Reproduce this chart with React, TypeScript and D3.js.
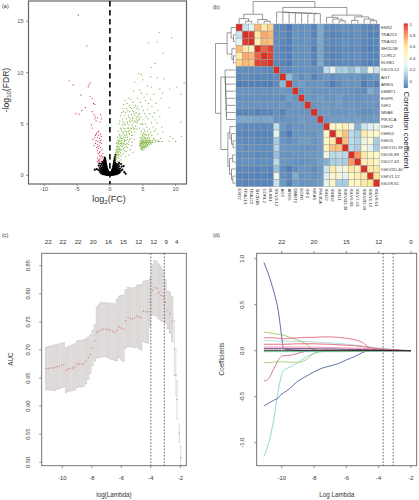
import React from "react";
import * as d3 from "d3";

// ---------- panel (a) volcano: [log2FC, -log10FDR] ----------
const redPts: [number, number][] = [
[-4.8,15.6],[-3.5,12.6],[-6.2,9.2],[-5.6,8.8],[-3.2,8.8],[-3,9],[-3.3,8.6],[-4.4,7.8],[-3,7.7],[-2.7,7.5],[-2.5,7],[-2.3,6.9],[-3.7,6.6],[-4.3,6.3],[-5.2,6],[-4.7,5.95],[-2.7,6.2],[-2.4,5.9],[-2.3,5.5],[-2.2,5.7],[-1.9,5.6],[-1.4,5.9],[-1.3,5.5],[-1.5,5.2],[-2.1,5.3],[-2.8,4.9],[-2.7,4.6],[-2,4.1],[-1.8,4.2],[-1.7,4.3],[-2.1,4],[-1.4,4],[-2.3,3.7],[-1.9,3.7],[-1.6,3.6],[-1.3,3.8],[-2.6,3.5],[-2.1,3.4],[-1.8,3.3],[-1.4,3.4],[-2.2,3.1],[-1.9,3],[-1.6,2.9],[-1.3,3.1],[-2,2.7],[-1.7,2.6],[-1.4,2.7],[-1.9,2.4],[-1.5,2.3],[-1.2,2.5],[-1.8,2.1],[-1.1,2.1],[-1.6,1.9],[-1.3,1.9],[-1.1,1.8],[-1.9,1.7],[-1.5,1.6],[-1.2,1.6],[-1.7,1.4],[-1.3,1.35],[-1.05,1.4],[-1.5,1.3],[-1.8,1.5],[-2.2,3.9],[-1.7,3.9],[-1.5,3.2],[-2.4,2.9],[-1.8,2.8],[-1.6,2.2],[-1.4,1.8],[-1.6,1.5],[-1.9,1.3],
];
const greenPts: [number, number][] = [
[7.5,13.9],[9.4,13.4],[7.2,13],[5.9,12.9],[8.1,11.9],[6.9,10.9],[6.3,10.5],[4.4,9.9],[4.8,9.8],[5,9.3],[6.2,9.6],[7.2,9.5],[8.2,9.4],[3.8,9.1],[11.3,9],[10.2,8.6],[9.1,8.4],[7.6,8.4],[5.7,8.7],[6.3,8.6],[4.5,8.3],[4.8,8],[3.6,8.2],[5.6,7.9],[6.7,7.9],[8,8],[10.8,7.9],[5.2,7.6],[2.8,7.5],[3.2,7.4],[4.2,7.5],[7.8,7.5],[5.4,7.3],[6.2,7.4],[2.3,7.3],[2.6,7],[3.5,7.1],[4.6,7.1],[5.9,7],[7,7],[2.1,6.9],[3,6.8],[3.9,6.8],[4.9,6.7],[6.4,6.7],[9,6.6],[2,6.5],[2.5,6.5],[3.3,6.5],[4.1,6.5],[4.4,6.4],[5.1,6.3],[5.7,6.4],[7.3,6.3],[1.8,6.1],[2.4,6.1],[3,6.2],[3.6,6.2],[4,6.1],[4.5,6],[5.3,6],[6.1,6],[6.8,6.1],[1.6,5.8],[2.2,5.8],[2.8,5.8],[3.3,5.9],[3.8,5.8],[4.3,5.7],[4.7,5.7],[5.5,5.7],[6.5,5.7],[7.6,5.7],[1.9,5.5],[2.5,5.5],[3.1,5.5],[3.5,5.5],[4,5.5],[4.4,5.4],[5,5.4],[5.8,5.5],[6.9,5.4],[1.5,5.3],[2,5.2],[2.6,5.2],[3.2,5.2],[3.7,5.2],[4.2,5.1],[4.7,5],[5,5],[5.4,5],[6.3,5.1],[7.2,5.1],[10.8,5.2],[1.4,5],[1.9,4.9],[2.4,4.9],[2.9,4.9],[3.4,4.9],[3.9,4.8],[4.9,4.95],[5.6,4.7],[6.6,4.7],[7.9,4.7],[1.6,4.6],[2.1,4.6],[2.7,4.6],[3.1,4.6],[3.6,4.5],[4.1,4.5],[4.5,4.6],[5.2,4.5],[6,4.5],[7,4.5],[1.3,4.3],[1.8,4.3],[2.3,4.3],[2.8,4.3],[3.3,4.2],[3.8,4.2],[4.8,4.3],[5.3,4.3],[5.7,4.3],[6.2,4.2],[6.8,4.3],[8.1,4.2],[1.5,4],[2,4],[2.5,4],[3,4],[3.5,3.9],[4.9,4],[5.1,4.1],[5.5,4],[5.9,4],[6.4,3.9],[7.3,4],[9.2,3.8],[10.9,3.8],[1.2,3.7],[1.6,3.7],[2.1,3.7],[2.7,3.7],[3.2,3.6],[3.7,3.5],[4.6,3.7],[4.9,3.7],[5.3,3.7],[5.7,3.7],[6.1,3.7],[6.6,3.6],[7.7,3.6],[9.6,3.6],[1.1,3.4],[1.4,3.4],[1.8,3.4],[2.3,3.4],[2.9,3.3],[3.4,3.2],[4.7,3.4],[5,3.4],[5.2,3.45],[5.5,3.4],[5.8,3.4],[6.1,3.4],[6.5,3.4],[7,3.4],[7.4,3.35],[8,3.3],[9,3.3],[10,3.3],[1,3.1],[1.3,3.1],[1.6,3.1],[2,3.1],[2.4,3],[2.8,3],[3.3,2.9],[4.6,3.1],[4.8,3.1],[5,3.15],[5.3,3.15],[5.6,3.1],[5.9,3.1],[6.2,3.15],[6.5,3.2],[6.9,3.25],[7.3,3.3],[7.6,3.3],[1,2.8],[1.2,2.8],[1.5,2.8],[1.9,2.8],[2.3,2.7],[2.7,2.7],[3.1,2.5],[4.5,2.9],[4.7,2.85],[4.9,2.9],[5.1,2.95],[5.4,2.9],[5.7,2.9],[6,3],[6.3,3.05],[0.9,2.5],[1.1,2.5],[1.4,2.5],[1.8,2.5],[2.2,2.4],[2.5,2.3],[3.5,2.2],[4.7,2.6],[4.9,2.65],[5.1,2.7],[5.3,2.7],[5.5,2.75],[5.8,2.8],[0.9,2.2],[1.1,2.2],[1.3,2.2],[1.6,2.2],[2,2.1],[2.9,2],[4.8,2.5],[5,2.5],[5.2,2.55],[0.8,1.9],[1,1.9],[1.3,1.9],[1.7,1.9],[2.4,1.8],[0.8,1.6],[1,1.6],[1.3,1.6],[1.7,1.5],[0.8,1.35],[1.1,1.35],[1.4,1.35],[5,3.8],[5.5,3.55],[6,3.55],[4.8,3.25],[5.4,3.25],[5.7,3.25],[6,3.25],[6.3,3.25],[4.9,2.8],[5.2,2.85],[5.6,2.95],[4.6,3.25],[4.7,3],[5.1,3.3],[5.9,3.85],[5.2,3.85],[4.8,3.55],[6.8,3.5],[1.5,2.6],[1.7,2.9],[1.4,3],[1.2,2.35],[1.5,2],[1.1,2.65],[1.8,3.2],[2.2,3.3],[2.6,3.1],[3,3.5],[3.3,3.9],[2.9,4.1],[3.5,4.7],[4,5.2],[4.4,5.9],[3.7,6],[4.2,6.7],
[4.7,2.75],[4.85,2.7],[5,2.75],[5.2,2.8],[5.4,2.8],[4.6,2.95],[4.75,3.05],[4.95,3.05],[5.15,3.05],[5.35,3.05],[5.5,3],[5.75,3],[5.95,3.2],[4.85,3.2],[5.05,3.2],[5.25,3.2],[5.45,3.2],[5.6,3.2],[5.8,3.2],[6.15,3.35],[4.9,3.35],[5.35,3.35],[5.6,3.35],[5.95,3.4],[5,3.55],[5.2,3.6],[5.4,3.6],[5.7,3.55],[4.95,3.9],[5.3,4],[5.6,3.9],[0.9,1.75],[1.1,1.75],[1.2,2],[1.05,2.05],[1.35,2.05],[1,2.35],[1.25,2.55],[1.3,2.7],[1.45,2.35],[1.6,2.45],[1.15,2.95],[1.35,3.25],[1.55,3.3],[1.75,3.05],[1.2,3.2],[1.5,3.55],[1.75,3.6],[1.95,3.55],[2.2,3.5],[1.4,3.85],[1.7,3.85],[2.25,3.9],[2.6,3.85],[2.05,4.2],[2.55,4.25],[3.05,4.35],[1.7,4.5],[2.3,4.55],[2.85,4.6],[3.3,4.55],[3.8,4.55],[2.2,5],[2.7,5.1],[3,5.3],[3.4,5.35],[3.8,5.3],[4.2,5.35],[2.9,5.65],[3.4,5.65],[4.1,5.7],[4.5,5.5],[2.1,6.2],[2.7,6.3],[3.4,6.3],[3.1,6.6],[3.7,6.6],[2.2,3.05],[2.5,2.85],[2.05,2.6],[2,2.95],[2.6,3.5],[2.4,3.7],
];
const blackPts: [number, number][] = [
[-.05,.02],[0,.03],[.05,.02],[-.1,.04],[.1,.03],[-.15,.06],[.15,.05],[-.2,.03],[.2,.04],[-.25,.08],[.25,.07],[-.3,.05],[.3,.06],[-.35,.1],[.35,.1],[-.4,.05],[.4,.05],[-.45,.12],[.45,.12],[-.5,.07],[.5,.08],[-.55,.14],[.55,.14],[-.6,.07],[.6,.08],[-.65,.15],[.65,.16],[-.7,.08],[.7,.09],[-.8,.12],[.8,.12],[-.9,.1],[.9,.1],[-1,.14],[1,.14],[-1.1,.1],[1.1,.12],
[-.05,.14],[.05,.14],[-.12,.18],[.12,.18],[-.18,.16],[.18,.16],[-.24,.22],[.24,.22],[-.3,.18],[.3,.18],[-.36,.24],[.36,.24],[-.42,.2],[.42,.2],[-.5,.25],[.5,.25],[-.58,.22],[.58,.22],[-.66,.28],[.66,.28],[-.74,.22],[.74,.24],[-.84,.27],[.84,.27],[-.95,.25],[.95,.26],[-1.05,.3],[1.05,.3],[-1.2,.25],[1.2,.25],[-1.35,.2],[1.35,.2],
[-.1,.28],[.1,.28],[-.2,.32],[.2,.32],[-.28,.34],[.28,.34],[-.36,.38],[.36,.38],[-.44,.34],[.44,.34],[-.52,.4],[.52,.4],[-.6,.36],[.6,.36],[-.68,.42],[.68,.42],[-.76,.38],[.76,.38],[-.86,.42],[.86,.42],[-.96,.4],[.96,.4],[-1.1,.42],[1.1,.42],[-1.3,.4],[1.3,.4],[-1.5,.35],[1.5,.3],
[-.32,.48],[.32,.48],[-.4,.52],[.4,.52],[-.48,.5],[.48,.5],[-.56,.56],[.56,.56],[-.64,.52],[.64,.52],[-.72,.58],[.72,.58],[-.8,.54],[.8,.54],[-.9,.58],[.9,.58],[-1,.55],[1,.55],[-1.15,.58],[1.15,.56],[-1.4,.55],[1.4,.5],[-1.7,.5],[1.7,.45],
[-.42,.66],[.42,.66],[-.5,.7],[.5,.7],[-.58,.68],[.58,.68],[-.66,.74],[.66,.74],[-.74,.7],[.74,.7],[-.82,.76],[.82,.76],[-.92,.72],[.92,.72],[-1.05,.76],[1.05,.74],[-1.25,.72],[1.25,.7],[-1.55,.7],[1.55,.66],[-2,.6],[1.9,.55],
[-.5,.86],[.5,.86],[-.58,.9],[.58,.9],[-.66,.88],[.66,.88],[-.74,.94],[.74,.94],[-.84,.9],[.84,.9],[-.95,.94],[.95,.92],[-1.1,.95],[1.1,.92],[-1.4,.9],[1.4,.88],[-1.7,.95],[1.8,.85],[2.2,.3],[-2.3,.55],
[-.56,1.06],[.56,1.06],[-.64,1.1],[.64,1.1],[-.72,1.08],[.72,1.08],[-.8,1.14],[.8,1.14],[-.9,1.1],[.9,1.1],[-1.05,1.15],[1.05,1.1],[-1.3,1.1],[1.3,1.05],[-1.6,1.15],[1.7,1.1],[2.1,.9],[2.4,.15],
[-.62,1.26],[.62,1.26],[-.7,1.3],[.7,1.3],[-.8,1.28],[.8,1.25],[-.95,1.3],[-1.15,1.3],[1.4,1.2],[-.66,1.42],[.66,1.42],[-.76,1.5],[.74,1.5],[-.9,1.46],[-.72,1.62],[.72,1.65],[-.8,1.72],[.8,1.8],[.85,2],
];
const volcanoXTicks = [-10, -5, 0, 5, 10];
const volcanoYTicks = [0, 5, 10, 15];

// ---------- panel (b) heatmap ----------
const genes = ["ESR2","TRAJ13","TRAJ22","SH2D1B","CORL2","KLKB1","IGLV3.12","AGT","AREG","DMBT1","EGFR","IGF2","NRAS","PIK3CA","IGHJ2","IGHD2","IGHJ1","IGKV1D.39","IGLV6.89","IGLV7.43","IGKV2D.40","IGKV1.12","IGLV8.61"];
const corrLower: number[][] = [
[100],
[20,100],
[28,97,100],
[72,56,50,100],
[54,76,72,90,100],
[66,72,70,96,96,100],
[-5,-5,-5,-5,-5,-6,100],
[-6,-5,-6,-7,-6,-7,-5,100],
[-9,-8,-8,-8,-8,-9,-6,6,100],
[-3,-3,-3,-4,-3,-4,-3,-2,-3,100],
[-4,-4,-4,-4,-4,-4,-4,-5,-1,-3,100],
[-3,-3,-3,-3,-3,-3,-3,-2,-4,-2,-2,100],
[-7,-7,-6,-8,-7,-7,-4,-7,-3,-3,-3,-3,100],
[2,2,2,1,1,2,-3,-4,-3,-3,-1,-2,-2,100],
[-5,-6,-5,-6,-6,-6,18,-2,-5,-3,-3,-2,-2,-2,100],
[-6,-7,-6,-7,-7,-7,28,-5,-9,-3,-3,-3,-3,-1,46,100],
[-5,-6,-5,-6,-6,-6,12,-3,-5,-3,-1,-1,-3,-1,44,56,100],
[-4,-5,-4,-5,-5,-5,14,-2,-3,-3,-3,-3,-3,-1,50,70,70,100],
[-5,-5,-5,-6,-5,-6,8,-3,-4,-3,-3,-2,-2,-1,34,17,18,17,100],
[-4,-4,-4,-5,-4,-5,17,-2,-3,-4,-4,-3,-3,0,4,13,14,13,80,100],
[-6,-6,-6,-7,-6,-7,8,-5,-9,-5,-3,-3,-5,-2,21,54,34,40,55,50,100],
[-7,-7,-7,-8,-7,-8,32,-4,-6,3,-3,-2,-4,-2,25,40,40,28,46,50,55,100],
[-6,-7,-6,-7,-7,-7,20,-2,-8,-1,-3,-3,-3,-1,30,44,13,13,44,44,56,60,100],
];
const legendTicks = [1, 0.8, 0.6, 0.4, 0.2, 0];
const heatDomain = [-0.11, 1];
const heatColors = ["#4575B4","#91BFDB","#E0F3F8","#FFF8C6","#FEE090","#FC8D59","#D73027"];
// dendrogram: [height fraction, child, child]; a leaf is a gene index
const dendro: any = [1,
  [.42,[.22,0,[.1,1,2]],[.18,3,[.1,4,5]]],
  [.73,
    [.52,6,[.5,7,[.49,8,[.48,9,[.47,10,[.46,11,[.45,12,13]]]]]]],
    [.38,
      [.28,14,[.2,15,[.12,16,17]]],
      [.3,[.14,18,19],[.2,20,[.13,21,22]]]]]];

// ---------- panel (c) AUC curve ----------
const aucLog = [-11.1,-10.95,-10.8,-10.65,-10.5,-10.35,-10.2,-10.05,-9.9,-9.75,-9.6,-9.45,-9.3,-9.15,-9,-8.85,-8.7,-8.55,-8.4,-8.25,-8.1,-7.95,-7.8,-7.65,-7.5,-7.35,-7.2,-7.05,-6.9,-6.75,-6.6,-6.45,-6.3,-6.15,-6,-5.85,-5.7,-5.55,-5.4,-5.25,-5.1,-4.95,-4.8,-4.65,-4.5,-4.35,-4.2,-4.05,-3.9,-3.75,-3.6,-3.45,-3.3,-3.15,-3,-2.85,-2.7,-2.55,-2.4,-2.3,-2.22,-2.07,-1.97];
const aucMean = [.667,.667,.668,.668,.669,.67,.671,.673,.674,.664,.666,.667,.668,.67,.675,.675,.675,.676,.68,.686,.692,.703,.716,.732,.734,.736,.737,.737,.736,.735,.733,.731,.735,.741,.739,.737,.752,.758,.757,.755,.757,.76,.759,.757,.769,.768,.768,.785,.806,.811,.81,.802,.797,.795,.785,.771,.765,.75,.702,.655,.612,.552,.508];
const aucUpper = [.705,.706,.707,.708,.709,.71,.711,.712,.713,.704,.706,.708,.709,.711,.716,.717,.717,.718,.72,.723,.727,.735,.745,.777,.782,.785,.784,.784,.783,.783,.783,.782,.79,.796,.797,.798,.807,.811,.811,.81,.811,.815,.816,.816,.822,.823,.824,.828,.852,.859,.858,.853,.848,.843,.825,.805,.803,.795,.752,.7,.645,.568,.529];
const aucLower = [.629,.629,.629,.628,.628,.63,.631,.633,.634,.624,.626,.627,.628,.629,.633,.634,.634,.635,.64,.648,.658,.672,.68,.686,.686,.687,.688,.688,.686,.684,.683,.681,.681,.686,.682,.68,.703,.706,.706,.705,.704,.705,.702,.7,.715,.713,.712,.742,.762,.762,.76,.755,.752,.75,.748,.738,.73,.715,.655,.62,.577,.535,.495];
const aucTopX = [-10.95,-9.95,-8.93,-7.9,-6.87,-5.85,-4.82,-3.8,-2.95,-2.25];
const aucTopLabels = ["22","22","22","20","16","15","12","12","9","4"];
const aucYTicks = [.5,.55,.6,.65,.7,.75,.8,.85];
const aucXTicks = [-10,-8,-6,-4,-2];
const aucVLines = [-4, -3.08];

// ---------- panel (d) coefficient paths ----------
const lamX = [-11.1,-10.8,-10.5,-10.2,-10,-9.9,-9.5,-9,-8.5,-8,-7.5,-7,-6.5,-6,-5.5,-5,-4.5,-4,-3.5,-3,-2.5,-2];
const pathRed2 = [.07,.07,.07,.07,.07,.07,.072,.075,.075,.075,.072,.07,.065,.06,.055,.045,.03,.02,.014,.008,.003,0];
const pathLightBlue = [.11,.11,.108,.105,.105,.105,.105,.1,.1,.095,.09,.085,.08,.07,.06,.05,.04,.03,.02,.012,.005,0];
const pathRed = [.14,.14,.14,.135,.13,.13,.135,.14,.145,.145,.15,.15,.145,.135,.12,.09,.03,.02,.015,.01,.004,0];
const pathPink2 = [.04,.04,.04,.04,.04,.04,.04,.04,.04,.038,.036,.034,.032,.03,.028,.025,.02,.015,.01,.006,.002,0];
const pathPurple = [.025,.025,.025,.025,.025,.025,.025,.025,.024,.022,.02,.02,.018,.016,.014,.012,.01,.008,.006,.004,.002,0];
const pathDark = [.005,.005,.005,.005,.005,.005,.005,.005,.005,.005,.005,.005,.005,.005,.005,.004,.004,.003,.002,.001,.001,0];
const pathGreen2 = [-.01,-.01,-.01,-.01,-.01,-.01,-.01,-.01,-.01,-.01,-.01,-.01,-.01,-.01,-.008,-.006,-.004,-.003,-.002,-.001,0,0];
const pathNavy = [.96,.82,.65,.42,.15,.03,.01,.005,0,0,0,0,0,0,0,0,0,0,0,0,0,0];
const pathCyan = [-1.15,-1,-.76,-.42,-.26,-.22,-.18,-.13,-.07,-.03,-.01,-.005,0,0,0,0,0,0,0,0,0,0];
const pathBlue = [-.6,-.57,-.54,-.51,-.47,-.46,-.41,-.33,-.28,-.23,-.19,-.165,-.14,-.1,-.065,-.02,0,0,0,0,0,0];
const pathOlive = [.2,.195,.185,.18,.175,.17,.145,.115,.075,.01,0,0,0,0,0,0,0,0,0,0,0,0];
const pathLime = [-.13,-.13,-.125,-.12,-.12,-.12,-.125,-.125,-.1,-.03,0,0,0,0,0,0,0,0,0,0,0,0];
const pathMauve = [-.33,-.3,-.2,-.1,-.06,-.055,-.05,-.03,-.005,0,0,0,0,0,0,0,0,0,0,0,0,0];
const coefSeries: [number[], string, number][] = [
  [pathLightBlue,"#a4dde2",.9],[pathCyan,"#86d2d6",.9],[pathNavy,"#505a9e",.9],[pathBlue,"#48639f",.9],
  [pathOlive,"#9ac86a",.9],[pathLime,"#a3cc72",.9],[pathMauve,"#c56c9a",.9],[pathRed,"#e46a7e",.9],
  [pathRed2,"#e8606f",.9],[pathPink2,"#ea90aa",.9],[pathPurple,"#7a4080",.9],[pathGreen2,"#66c08a",1],[pathDark,"#2a1a26",1],
];
const coefTopX = [-10,-8,-6,-4,-2];
const coefTopLabels = ["22","20","15","12","0"];
const coefYTicks = [-1,-.5,0,.5,1];
const coefXTicks = [-10,-8,-6,-4,-2];
const coefVLines = [-3.72,-3.1];

const FONT = "'Liberation Sans', Arial, sans-serif";
const GREY = "#555";
const AXIS = "#666";

function Volcano() {
  const x = d3.scaleLinear().domain([-10, 10]).range([44.2, 175.6]);
  const y = d3.scaleLinear().domain([0, 15]).range([175.3, 21.3]);
  const L = 28.5, R = 186.5, T = 1, B = 184;
  return (
    <g fontFamily={FONT}>
      <rect x={L} y={T} width={R - L} height={B - T} fill="#fff" stroke={AXIS} strokeWidth={1.2} />
      {blackPts.map((p, i) => <circle key={i} cx={x(p[0])} cy={y(p[1])} r={1.1} fill="#000" />)}
      {redPts.map((p, i) => <circle key={i} cx={x(p[0])} cy={y(p[1])} r={0.62} fill="#c8344c" />)}
      {greenPts.map((p, i) => <circle key={i} cx={x(p[0])} cy={y(p[1])} r={0.62} fill="#7cb23a" />)}
      <line x1={x(0)} x2={x(0)} y1={T} y2={B} stroke="#000" strokeWidth={1.6} strokeDasharray="5.5 3.5" />
      {volcanoXTicks.map(t => (
        <g key={t}>
          <line x1={x(t)} x2={x(t)} y1={B} y2={B + 2} stroke={AXIS} strokeWidth={0.7} />
          <text x={x(t)} y={191} fontSize={5.6} textAnchor="middle" fill={GREY}>{t}</text>
        </g>
      ))}
      {volcanoYTicks.map(t => (
        <g key={t}>
          <line x1={L - 2.5} x2={L} y1={y(t)} y2={y(t)} stroke={AXIS} strokeWidth={0.7} />
          <text x={23.5} y={y(t) + 2} fontSize={5.6} textAnchor="end" fill={GREY}>{t}</text>
        </g>
      ))}
      <text x={109} y={202} fontSize={9} textAnchor="middle" fill="#333">log<tspan fontSize={6.2} dy={2}>2</tspan><tspan dy={-2}>(FC)</tspan></text>
      <text transform="translate(9,90) rotate(-90)" fontSize={8.6} textAnchor="middle" fill="#333">-log<tspan fontSize={6} dy={2}>10</tspan><tspan dy={-2}>(FDR)</tspan></text>
    </g>
  );
}

function Dendro({ orient }: { orient: "top" | "left" }) {
  const n = genes.length;
  const pos = d3.scaleBand<number>().domain(d3.range(n)).range(orient === "top" ? [236, 379.7] : [24, 186.7]);
  const hs = orient === "top" ? d3.scaleLinear().domain([0, 1]).range([23.5, 1.5]) : d3.scaleLinear().domain([0, 1]).range([235.5, 215.5]);
  const segs: string[] = [];
  const walk = (node: any): [number, number] => {
    if (typeof node === "number") return [pos(node)! + pos.bandwidth() / 2, 0];
    const [h, a, b] = node;
    const [pa, ha] = walk(a);
    const [pb, hb] = walk(b);
    if (orient === "top") segs.push(`M${pa},${hs(ha)}V${hs(h)}H${pb}V${hs(hb)}`);
    else segs.push(`M${hs(ha)},${pa}H${hs(h)}V${pb}H${hs(hb)}`);
    return [(pa + pb) / 2, h];
  };
  walk(dendro);
  return <path d={segs.join("")} fill="none" stroke="#555" strokeWidth={0.6} />;
}

function Heatmap() {
  const n = genes.length;
  const x = d3.scaleBand<number>().domain(d3.range(n)).range([236, 379.7]);
  const y = d3.scaleBand<number>().domain(d3.range(n)).range([24, 186.7]);
  const stops = heatColors.map((_, i) => heatDomain[0] + (i / (heatColors.length - 1)) * (heatDomain[1] - heatDomain[0]));
  const color = d3.scaleLinear<string>().domain(stops).range(heatColors).interpolate(d3.interpolateRgb);
  const value = (i: number, j: number) => (i >= j ? corrLower[i][j] : corrLower[j][i]) / 100;
  const legY = d3.scaleLinear().domain([1, 0]).range([24, 81.3]);
  const legendVals = d3.range(heatDomain[0], 1.0001, 0.01);
  return (
    <g fontFamily={FONT}>
      <Dendro orient="top" />
      <Dendro orient="left" />
      {d3.range(n).map(i => d3.range(n).map(j => (
        <rect key={i + "-" + j} x={x(j)} y={y(i)} width={x.bandwidth()} height={y.bandwidth()} fill={color(value(i, j))} stroke="#9a9a9a" strokeWidth={0.45} />
      )))}
      {genes.map((g, i) => (
        <g key={g}>
          <text x={381} y={y(i)! + y.bandwidth() / 2 + 1.5} fontSize={4.3} fill="#333">{g}</text>
          <text transform={`translate(${x(i)! + x.bandwidth() / 2 - 1.5},188.5) rotate(90)`} fontSize={4.3} fill="#333">{g}</text>
        </g>
      ))}
      {legendVals.map(v => (
        <rect key={v} x={403.8} y={legY(v + 0.01)} width={4} height={legY(v) - legY(v + 0.01) + 0.3} fill={color(v)} />
      ))}
      {legendTicks.map(t => (
        <text key={t} x={409.5} y={legY(t) + 1.5} fontSize={4.3} fill="#333">{t}</text>
      ))}
      <text transform="translate(404,130) rotate(90)" fontSize={8} textAnchor="middle" fill="#222">Correlation coefficient</text>
    </g>
  );
}

function RFrame({ L, R, T, B, x, y, xTicks, yTicks, fmtY, xTitle, yTitle, top, topLabels, vlines, yLabelX, yTitleX }: any) {
  return (
    <g fontFamily={FONT}>
      <rect x={L} y={T} width={R - L} height={B - T} fill="none" stroke={AXIS} strokeWidth={0.9} />
      {xTicks.map((t: number) => (
        <g key={t}>
          <line x1={x(t)} x2={x(t)} y1={B} y2={B + 2.5} stroke={AXIS} strokeWidth={0.7} />
          <text x={x(t)} y={480} fontSize={5.8} textAnchor="middle" fill="#333">{t}</text>
        </g>
      ))}
      {yTicks.map((t: number) => (
        <g key={t}>
          <line x1={L - 2.5} x2={L} y1={y(t)} y2={y(t)} stroke={AXIS} strokeWidth={0.7} />
          <text transform={`translate(${yLabelX},${y(t)}) rotate(-90)`} fontSize={5.8} textAnchor="middle" fill="#333">{fmtY(t)}</text>
        </g>
      ))}
      {top.map((t: number, i: number) => (
        <text key={i} x={x(t)} y={243.5} fontSize={6.2} textAnchor="middle" fill="#333">{topLabels[i]}</text>
      ))}
      {vlines.map((v: number) => (
        <line key={v} x1={x(v)} x2={x(v)} y1={T} y2={B} stroke="#444" strokeWidth={0.8} strokeDasharray="1.6 1.6" />
      ))}
      <text x={(L + R) / 2} y={497} fontSize={6.3} textAnchor="middle" fill="#333">{xTitle}</text>
      <text transform={`translate(${yTitleX},359) rotate(-90)`} fontSize={6.3} textAnchor="middle" fill="#333">{yTitle}</text>
    </g>
  );
}

function AucPanel() {
  const x = d3.scaleLinear().domain([-10, -2]).range([62.3, 180.3]);
  const y = d3.scaleLinear().domain([0.5, 0.85]).range([462.3, 265.7]);
  const meanLine = aucLog.map((l, i) => ({ l, m: aucMean[i], u: aucUpper[i], d: aucLower[i] }));
  return (
    <g>
      {meanLine.map((p, i) => (
        <line key={"b" + i} x1={x(p.l)} x2={x(p.l)} y1={y(p.u)} y2={y(p.d)} stroke="#dcd9d8" strokeWidth={i > 57 ? 0.9 : 2.4} />
      ))}
      {meanLine.map((p, i) => (
        <g key={i}>
          <line x1={x(p.l) - 1.1} x2={x(p.l) + 1.1} y1={y(p.u)} y2={y(p.u)} stroke="#b9b6b5" strokeWidth={0.5} />
          <line x1={x(p.l) - 1.1} x2={x(p.l) + 1.1} y1={y(p.d)} y2={y(p.d)} stroke="#b9b6b5" strokeWidth={0.5} />
          <circle cx={x(p.l)} cy={y(p.m)} r={0.7} fill="#dd7f82" />
        </g>
      ))}
      <RFrame L={41.7} R={186.3} T={253.3} B={465.7} x={x} y={y} xTicks={aucXTicks} yTicks={aucYTicks}
        fmtY={(t: number) => t.toFixed(2)} xTitle="log(Lambda)" yTitle="AUC" top={aucTopX} topLabels={aucTopLabels}
        vlines={aucVLines} yLabelX={30} yTitleX={13} />
    </g>
  );
}

function CoefPanel() {
  const x = d3.scaleLinear().domain([-10, -2]).range([281.7, 411]);
  const y = d3.scaleLinear().domain([-1, 1]).range([442.7, 258.7]);
  const line = d3.line<number>().x((_, i) => x(lamX[i])).y(d => y(d)).curve(d3.curveMonotoneX);
  return (
    <g>
      {coefSeries.map((s, i) => (
        <path key={i} d={line(s[0]) || ""} fill="none" stroke={s[1]} strokeWidth={s[2]} />
      ))}
      <RFrame L={256.7} R={416.7} T={253.3} B={465.7} x={x} y={y} xTicks={coefXTicks} yTicks={coefYTicks}
        fmtY={(t: number) => t.toFixed(1)} xTitle="Log Lambda" yTitle="Coefficients" top={coefTopX} topLabels={coefTopLabels}
        vlines={coefVLines} yLabelX={244} yTitleX={224} />
      {coefTopX.map(t => <line key={t} x1={x(t)} x2={x(t)} y1={250.8} y2={253.3} stroke={AXIS} strokeWidth={0.7} />)}
    </g>
  );
}

export default function App() {
  return (
    <svg width={419} height={500} viewBox="0 0 419 500" style={{ position: "absolute", left: 0, top: 0, background: "#fff" }}>
      <g fontFamily={FONT} fontSize={5.5} fill="#333">
        <text x={2} y={8}>(a)</text>
        <text x={213} y={8.5}>(b)</text>
        <text x={2} y={237}>(c)</text>
        <text x={213} y={237}>(d)</text>
      </g>
      <Volcano />
      <Heatmap />
      <AucPanel />
      <CoefPanel />
    </svg>
  );
}
